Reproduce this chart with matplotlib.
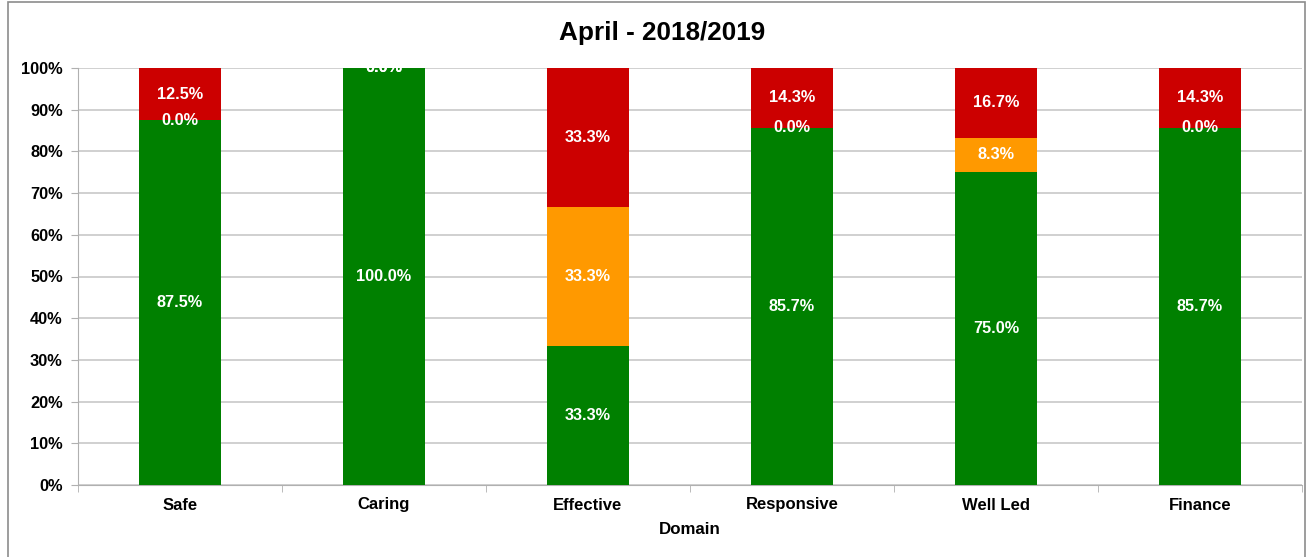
import matplotlib
matplotlib.use("Agg")
import matplotlib.pyplot as plt
from matplotlib.patches import Rectangle
import numpy as np

plt.rcParams['font.family'] = ['Liberation Sans', 'DejaVu Sans']

categories = ["Safe", "Caring", "Effective", "Responsive", "Well Led", "Finance"]
green = [87.5, 100.0, 33.3, 85.7, 75.0, 85.7]
amber = [0.0, 0.0, 33.3, 0.0, 8.3, 0.0]
red = [12.5, 0.0, 33.3, 14.3, 16.7, 14.3]
yticks = [0, 10, 20, 30, 40, 50, 60, 70, 80, 90, 100]

fig = plt.figure(figsize=(13.14, 5.57), dpi=100)
ax = fig.add_axes([78/1314, 1-485/557, (1302-78)/1314, (485-68)/557])

# frame around chart
fig.patches.append(Rectangle((8/1314, -0.1), (1305-8)/1314, 1.1 - 2/557,
                             transform=fig.transFigure, fill=False,
                             edgecolor='#8c8c8c', linewidth=1.2))

x = np.arange(len(categories))
w = 0.4
series = [(green, '#008000'), (amber, '#FF9900'), (red, '#CC0000')]
bottom = np.zeros(len(categories))
for vals, col in series:
    v = np.array(vals)
    ax.bar(x, v, w, bottom=bottom, color=col, zorder=3)
    for xi, b, vi in zip(x, bottom, v):
        ax.text(xi, b + vi/2, f"{vi:.1f}%", ha='center', va='center',
                color='white', fontsize=11.7, fontweight='bold', zorder=4,
                clip_on=False)
    bottom = bottom + v

ax.set_xlim(-0.5, len(categories) - 0.5)
ax.set_ylim(0, 100)
ax.set_yticks(yticks)
ax.set_yticklabels([f"{t}%" for t in yticks], fontsize=11.8, fontweight='bold')
ax.set_xticks(x)
ax.set_xticklabels(categories, fontsize=12, fontweight='bold')
ax.set_xticks(np.arange(-0.5, len(categories)), minor=True)
ax.tick_params(axis='x', which='major', length=0, pad=9)
ax.tick_params(axis='x', which='minor', length=5, color='#b0b0b0')
ax.tick_params(axis='y', length=5, color='#b0b0b0', pad=6)
ax.grid(axis='y', color='#c8c8c8', linewidth=1.2, zorder=0)
for s in ['top', 'right']:
    ax.spines[s].set_visible(False)
ax.spines['left'].set_color('#b0b0b0')
ax.spines['bottom'].set_color('#b0b0b0')

fig.text(662/1314, 1-33/557, "April - 2018/2019", fontsize=18.8,
         fontweight='bold', ha='center', va='center')
ax.set_xlabel("Domain", fontsize=12.2, fontweight='bold', labelpad=7)

fig.savefig("out.png", dpi=100)
